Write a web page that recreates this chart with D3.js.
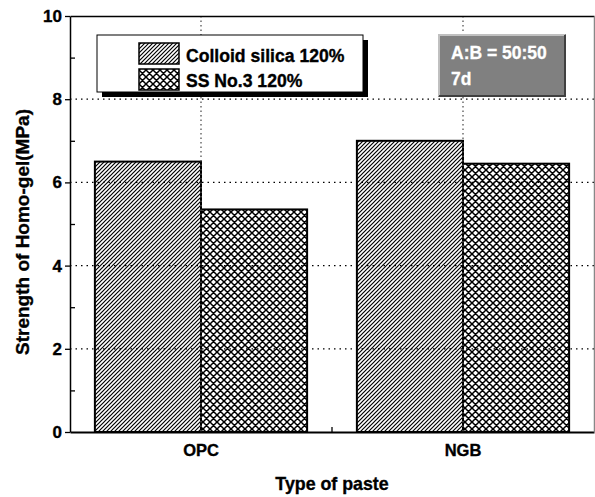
<!DOCTYPE html>
<html>
<head>
<meta charset="utf-8">
<script src="https://cdn.jsdelivr.net/npm/d3@7"></script>
<style>
  body { margin: 0; background: #fff; }
  text { font-family: "Liberation Sans", Arial, sans-serif; font-weight: bold; }
  .heavy { stroke: #000; stroke-width: 0.35px; }
</style>
</head>
<body>
<svg id="drawing_region"></svg>
<script>
// data
var categories = ['OPC', 'NGB'];
var seriesNames = ['Colloid silica 120%', 'SS No.3 120%'];
var colloidValues = [6.5, 7.0];
var ssValues = [5.35, 6.45];
var majorTicks = [0, 2, 4, 6, 8, 10];
var minorTicks = [1, 3, 5, 7, 9];
var noteLines = ['A:B = 50:50', '7d'];

var width = 595;
var height = 497;
var margin = {top: 16, right: 1, bottom: 65, left: 70};

var svg = d3.select('#drawing_region')
    .attr('width', width)
    .attr('height', height);

var defs = svg.append('defs');

var hatch = defs.append('pattern')
    .attr('id', 'hatch')
    .attr('patternUnits', 'userSpaceOnUse')
    .attr('width', 4).attr('height', 4);
hatch.append('rect').attr('width', 4).attr('height', 4).attr('fill', '#fff');
hatch.append('path')
    .attr('d', 'M-1,1 l2,-2 M0,4 l4,-4 M3,5 l2,-2')
    .attr('stroke', '#000').attr('stroke-width', 1.2);

var cross = defs.append('pattern')
    .attr('id', 'cross')
    .attr('patternUnits', 'userSpaceOnUse')
    .attr('width', 7).attr('height', 7);
cross.append('rect').attr('width', 7).attr('height', 7).attr('fill', '#fff');
cross.append('path')
    .attr('d', 'M0,0 L7,7 M7,0 L0,7 M-1,6 L1,8 M6,-1 L8,1 M-1,1 L1,-1 M6,8 L8,6')
    .attr('stroke', '#000').attr('stroke-width', 1.5);

var fills = ['url(#hatch)', 'url(#cross)'];

var chart = svg.append('g')
    .attr('transform', `translate(${margin.left}, ${margin.top})`);

var inner_width = width - margin.left - margin.right;
var inner_height = height - margin.top - margin.bottom;

var xscale = d3.scaleBand()
    .domain(categories)
    .range([0, inner_width])
    .padding(0);

var x1 = d3.scaleBand()
    .domain(seriesNames)
    .range([xscale.bandwidth() * 0.095, xscale.bandwidth() * 0.905]);

var yscale = d3.scaleLinear()
    .domain([0, 10])
    .range([inner_height, 0]);

var data = categories.map((c, i) => ({
    cat: c,
    vals: [colloidValues[i], ssValues[i]]
}));

// bars
var groups = chart.selectAll('g.grp').data(data).enter()
    .append('g')
    .attr('class', 'grp')
    .attr('transform', d => `translate(${xscale(d.cat)}, 0)`);

groups.selectAll('rect')
    .data(d => d.vals.map((v, j) => ({name: seriesNames[j], value: v, j: j})))
    .enter()
    .append('rect')
    .attr('x', d => x1(d.name))
    .attr('y', d => yscale(d.value))
    .attr('width', x1.bandwidth())
    .attr('height', d => inner_height - yscale(d.value))
    .attr('fill', d => fills[d.j])
    .attr('stroke', '#000')
    .attr('stroke-width', 2);

// dotted grid
chart.append('g').selectAll('line')
    .data(majorTicks.filter(t => t > 0 && t < 10)).enter()
    .append('line')
    .attr('x1', 0).attr('x2', inner_width)
    .attr('y1', d => yscale(d)).attr('y2', d => yscale(d))
    .attr('stroke', '#000')
    .attr('stroke-width', 1.3)
    .attr('stroke-dasharray', '1.5,4');

chart.append('g').selectAll('line')
    .data(categories).enter()
    .append('line')
    .attr('x1', d => xscale(d) + xscale.bandwidth() / 2)
    .attr('x2', d => xscale(d) + xscale.bandwidth() / 2)
    .attr('y1', 0).attr('y2', inner_height)
    .attr('stroke', '#555')
    .attr('stroke-width', 1.3)
    .attr('stroke-dasharray', '1.5,3');

// axes
var yaxis = d3.axisLeft(yscale)
    .tickValues(majorTicks)
    .tickSize(5)
    .tickPadding(3)
    .tickSizeOuter(0);

var yminor = d3.axisRight(yscale)
    .tickValues(minorTicks)
    .tickSize(5)
    .tickFormat('')
    .tickSizeOuter(0);

var ygrp = chart.append('g').call(yaxis);
ygrp.selectAll('text').attr('font-size', 17).attr('fill', '#000')
    .attr('class', 'heavy')
    .style('font-family', '"Liberation Sans", Arial, sans-serif');
ygrp.select('.domain').attr('stroke-width', 1.5);
ygrp.selectAll('line').attr('stroke-width', 1.3);

var ymin = chart.append('g').call(yminor);
ymin.select('.domain').remove();
ymin.selectAll('line').attr('stroke-width', 1.3);

var xaxis = d3.axisBottom(xscale)
    .tickSize(0)
    .tickPadding(12)
    .tickSizeOuter(0);

var xgrp = chart.append('g')
    .attr('transform', `translate(0, ${inner_height})`)
    .call(xaxis);
xgrp.selectAll('text').attr('font-size', 16.5).attr('fill', '#000')
    .attr('class', 'heavy')
    .style('font-family', '"Liberation Sans", Arial, sans-serif');
xgrp.select('.domain').attr('stroke-width', 2);

// tick between the categories, pointing up
chart.append('line')
    .attr('x1', xscale(categories[1])).attr('x2', xscale(categories[1]))
    .attr('y1', inner_height).attr('y2', inner_height - 5)
    .attr('stroke', '#000').attr('stroke-width', 1.3);

// top and right frame
chart.append('g')
    .call(d3.axisTop(xscale).tickValues([]).tickSizeOuter(0))
    .select('.domain').attr('stroke-width', 1.5);
chart.append('g')
    .attr('transform', `translate(${inner_width}, 0)`)
    .call(d3.axisRight(yscale).tickValues([]).tickSizeOuter(0))
    .select('.domain').attr('stroke', '#888').attr('stroke-width', 1.5);

// axis titles
svg.append('text')
    .attr('class', 'heavy')
    .attr('transform', `translate(29, ${margin.top + inner_height / 2 + 8}) rotate(-90)`)
    .attr('text-anchor', 'middle')
    .attr('font-size', 19)
    .text('Strength of Homo-gel(MPa)');

svg.append('text')
    .attr('class', 'heavy')
    .attr('x', margin.left + inner_width / 2)
    .attr('y', 490)
    .attr('text-anchor', 'middle')
    .attr('font-size', 17.8)
    .text('Type of paste');

// legend
var legend = svg.append('g').attr('transform', 'translate(97, 35)');
legend.append('rect')
    .attr('x', 5).attr('y', 5).attr('width', 266).attr('height', 57)
    .attr('fill', '#000');
legend.append('rect')
    .attr('x', 0).attr('y', 0).attr('width', 266).attr('height', 57)
    .attr('fill', '#fff').attr('stroke', '#000').attr('stroke-width', 1);

seriesNames.forEach((name, i) => {
    legend.append('rect')
        .attr('x', 42).attr('y', 8 + i * 26)
        .attr('width', 40).attr('height', 21)
        .attr('fill', fills[i])
        .attr('stroke', '#000').attr('stroke-width', 1.5);
    legend.append('text')
        .attr('class', 'heavy')
        .attr('x', 89).attr('y', 27 + i * 25)
        .attr('font-size', 17.6)
        .text(name);
});

// annotation box
var note = svg.append('g').attr('transform', 'translate(438, 34)');
note.append('rect')
    .attr('x', 0).attr('y', 0).attr('width', 128).attr('height', 63)
    .attr('fill', '#808080');
note.append('path')
    .attr('d', 'M1,62 L1,1 L127,1')
    .attr('fill', 'none').attr('stroke', '#c0c0c0').attr('stroke-width', 2);
note.append('path')
    .attr('d', 'M1,62 L127,62 L127,1')
    .attr('fill', 'none').attr('stroke', '#404040').attr('stroke-width', 2);
noteLines.forEach((t, i) => {
    note.append('text')
        .attr('x', 13).attr('y', 25 + i * 26)
        .attr('font-size', 17.5)
        .attr('fill', '#fff')
        .attr('stroke', '#fff').attr('stroke-width', 0.3)
        .text(t);
});
</script>
</body>
</html>
